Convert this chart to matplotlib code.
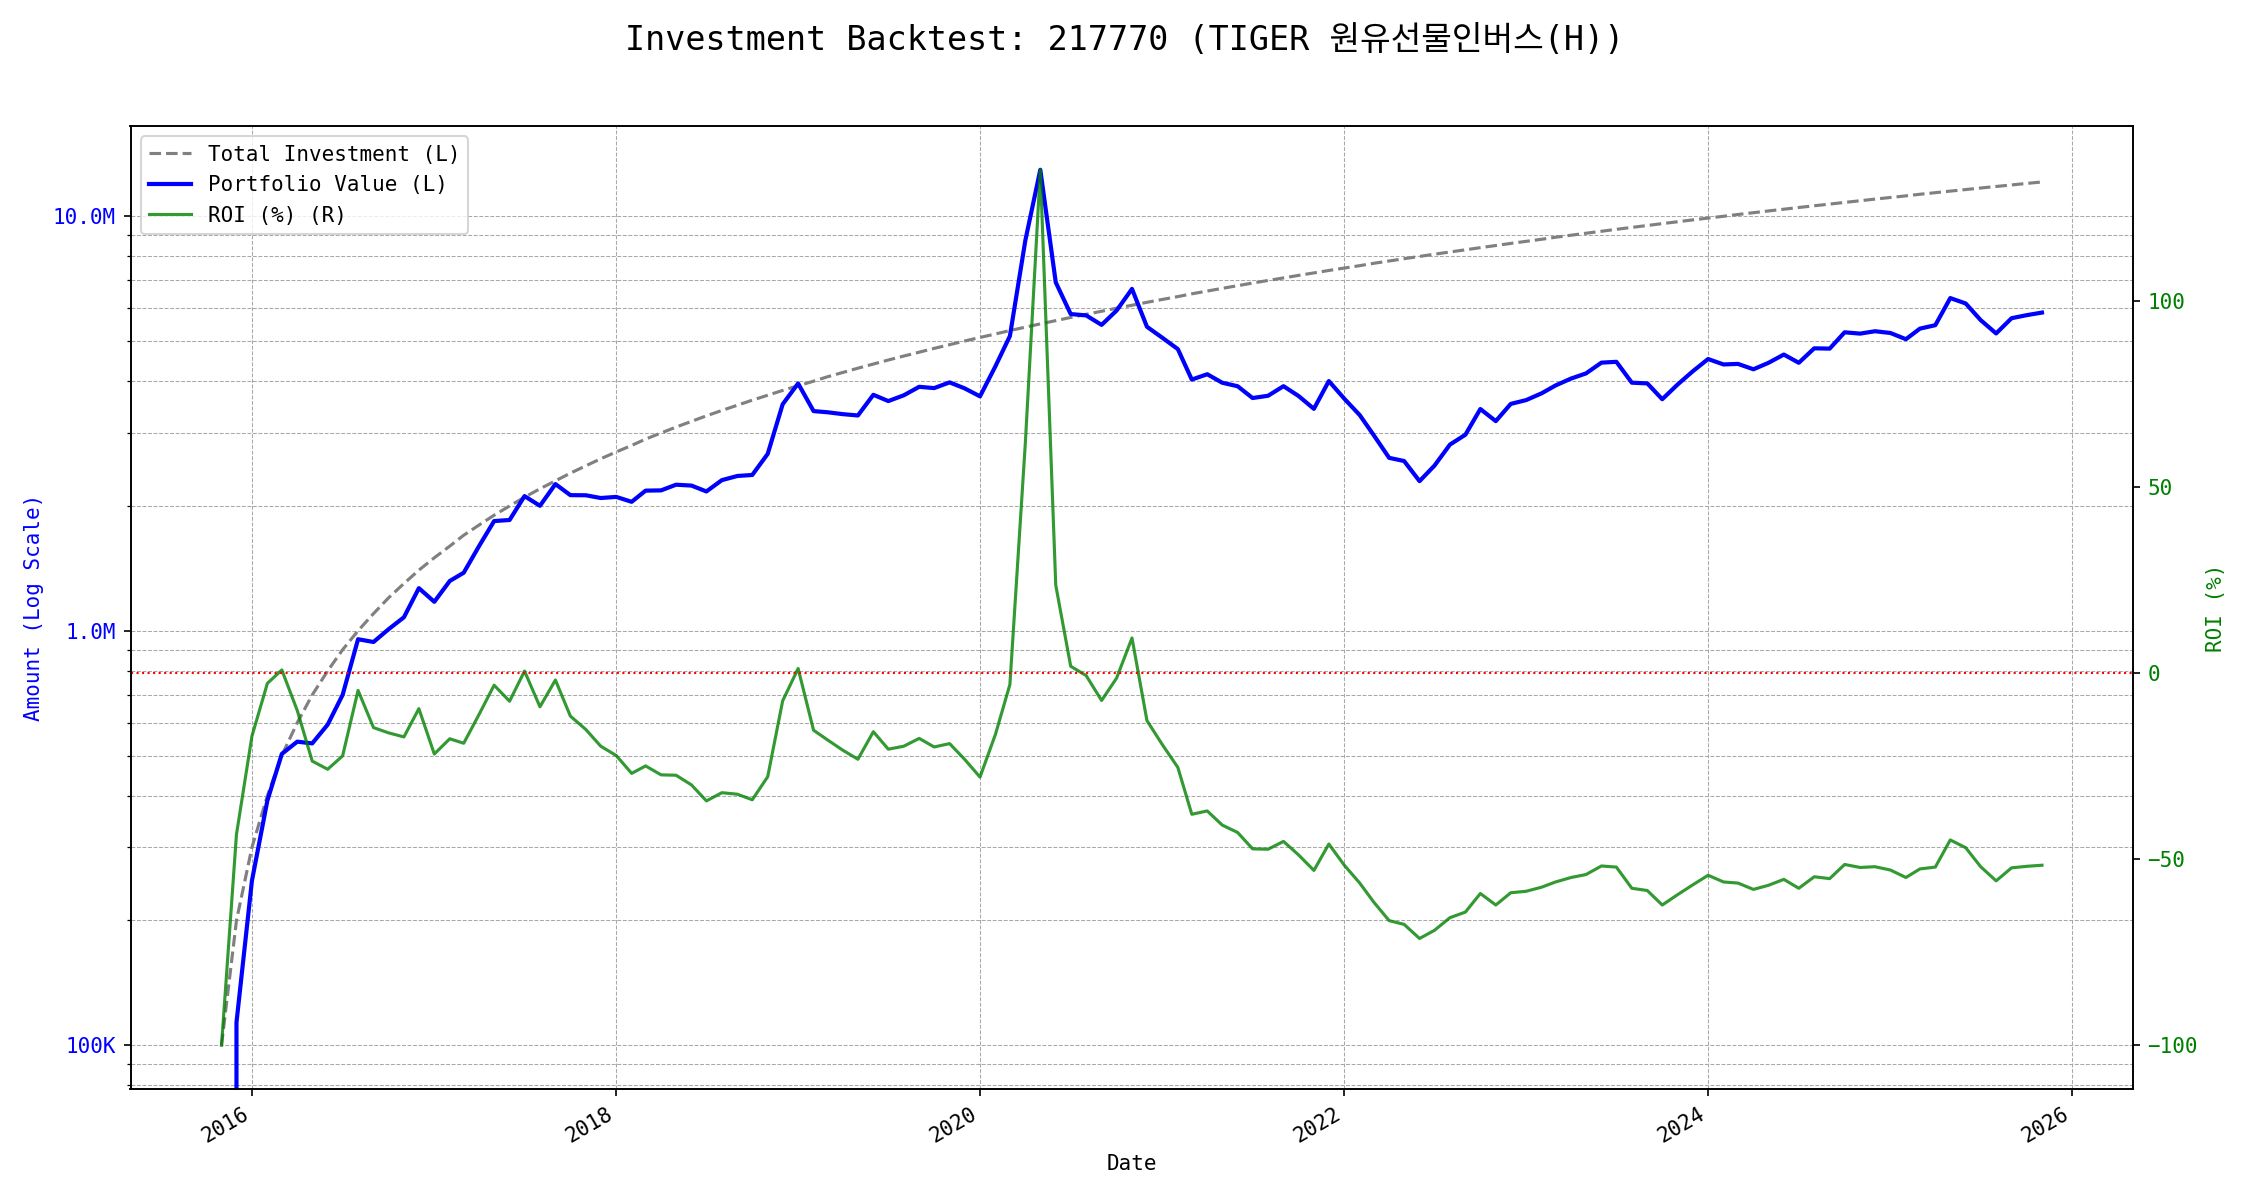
#!/usr/bin/env python
"""Monthly DCA backtest chart: total invested vs portfolio value (log) + ROI (%)."""
import numpy as np
import pandas as pd
import matplotlib
matplotlib.use("Agg")
import matplotlib.pyplot as plt
from matplotlib.ticker import FuncFormatter, NullFormatter

TICKER = "217770"
NAME = "TIGER 원유선물인버스(H)"
START = "2015-11-01"
MONTHLY_DEPOSIT = 100_000

# ROI (%) at each monthly buy (2015-11 .. 2025-11)
roi_pct = [
    -100.0, -43.3, -16.9, -2.7, 0.9, -10.0, -23.6, -25.8, -22.2, -4.6,
    -14.6, -16.0, -17.1, -9.5, -21.7, -17.6, -18.8, -11.0, -3.2, -7.5,
    0.6, -9.0, -1.8, -11.5, -15.1, -19.6, -22.1, -26.9, -24.9, -27.3,
    -27.4, -30.0, -34.3, -32.1, -32.5, -34.0, -27.8, -7.4, 1.3, -15.3,
    -17.9, -20.7, -23.1, -15.7, -20.4, -19.6, -17.5, -19.8, -18.9, -23.1,
    -27.9, -16.4, -3.0, 62.0, 135.4, 23.7, 1.9, -0.6, -7.3, -1.3,
    9.5, -12.7, -19.2, -25.3, -37.9, -37.0, -40.8, -42.8, -47.2, -47.3,
    -45.2, -48.8, -53.0, -45.9, -51.6, -56.4, -61.5, -66.5, -67.5, -71.3,
    -69.1, -65.7, -64.2, -59.2, -62.3, -59.0, -58.6, -57.5, -56.1, -54.9,
    -54.1, -51.8, -52.1, -57.8, -58.4, -62.3, -59.5, -56.9, -54.3, -56.1,
    -56.4, -58.1, -57.0, -55.4, -57.8, -54.7, -55.2, -51.4, -52.2, -52.0,
    -52.9, -54.9, -52.6, -52.1, -44.8, -46.9, -52.0, -55.8, -52.3, -51.9,
    -51.6,
]


def amount_fmt(x, pos):
    if x >= 1e6:
        return f"{x / 1e6:.1f}M"
    return f"{x / 1e3:.0f}K"


def main():
    plt.rcParams["font.family"] = ["DejaVu Sans Mono", "Noto Sans CJK KR"]

    dates = pd.date_range(START, periods=len(roi_pct), freq="MS")
    roi = np.array(roi_pct)
    invested = MONTHLY_DEPOSIT * np.arange(1, len(roi) + 1)
    value = invested * (1 + roi / 100.0)

    fig, ax1 = plt.subplots(figsize=(15, 8), dpi=150)
    fig.suptitle(f"Investment Backtest: {TICKER} ({NAME})", fontsize=16)

    l1, = ax1.plot(dates, invested, color="gray", ls="--", lw=1.5,
                   label="Total Investment (L)")
    l2, = ax1.plot(dates, value, color="blue", lw=2, label="Portfolio Value (L)")
    ax1.set_yscale("log")
    ax1.yaxis.set_major_formatter(FuncFormatter(amount_fmt))
    ax1.yaxis.set_minor_formatter(NullFormatter())
    ax1.set_xlabel("Date")
    ax1.set_ylabel("Amount (Log Scale)", color="blue")
    ax1.tick_params(axis="y", labelcolor="blue")
    ax1.grid(True, which="both", ls="--", lw=0.5, color="#a8a8a8")

    ax2 = ax1.twinx()
    l3, = ax2.plot(dates, roi, color="green", lw=1.5, alpha=0.8, label="ROI (%) (R)")
    ax2.axhline(0, color="red", ls=":", lw=1)
    ax2.set_ylabel("ROI (%)", color="green")
    ax2.tick_params(axis="y", labelcolor="green")

    ax1.legend(handles=[l1, l2, l3], loc="upper left")
    fig.autofmt_xdate()
    fig.subplots_adjust(left=0.058, right=0.948, top=0.895, bottom=0.0925)
    fig.savefig("out.png", dpi=150)


if __name__ == "__main__":
    main()
